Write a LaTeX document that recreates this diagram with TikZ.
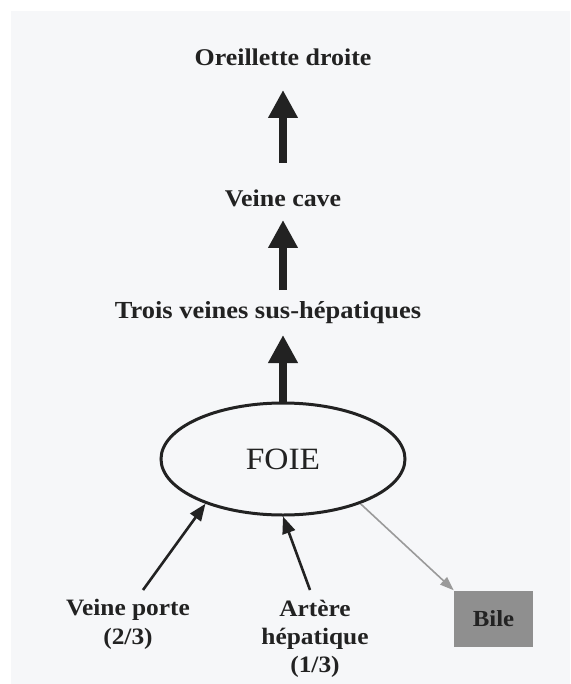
\documentclass[tikz,border=0pt]{standalone}
\usepackage{fontspec}
\setmainfont{Liberation Serif}[FakeStretch=1.08]
\usetikzlibrary{arrows.meta,shapes.geometric}
\definecolor{paper}{HTML}{F6F7F9}
\definecolor{ink}{HTML}{222222}
\definecolor{bilegray}{HTML}{8F8F8F}
\definecolor{lightarrow}{HTML}{9A9A9A}
\tikzset{
  lbl/.style={font=\fontsize{24}{28}\selectfont\bfseries, text=ink, align=center, inner sep=0pt},
  bigarrow/.style={draw=ink, line width=8pt, -{Triangle[width=28pt,length=28pt]}},
  thinarrow/.style={draw=ink, line width=2.6pt, -{Triangle[width=13pt,length=17pt]}},
  grayarrow/.style={draw=lightarrow, line width=1.6pt, -{Triangle[width=10pt,length=14pt]}},
}
\begin{document}
\begin{tikzpicture}[x=1pt,y=-1pt]
\useasboundingbox (0,0) rectangle (570,684);
\fill[white] (0,0) rectangle (570,684);
\fill[paper] (11,11) rectangle (570,684);

\node[lbl] (od) at (283,57) {Oreillette droite};
\node[lbl] (vc) at (283,198) {Veine cave};
\node[lbl, font=\fontsize{24.5}{28}\selectfont\bfseries] (tv) at (268,313) {Trois veines sus-hépatiques};
\node[ellipse, draw=ink, line width=3pt, minimum width=244pt, minimum height=112pt,
      font=\fontsize{31}{34}\selectfont, text=ink] (foie) at (283,459) {FOIE};
\node[lbl, font=\fontsize{23.5}{29}\selectfont\bfseries] (vp) at (128,624) {Veine porte\\(2/3)};
\node[lbl, font=\fontsize{23.5}{28}\selectfont\bfseries] (ah) at (315,639) {Artère\\hépatique\\(1/3)};
\node[fill=bilegray, minimum width=79pt, minimum height=56pt, inner sep=0pt,
      font=\fontsize{23}{26}\selectfont\bfseries, text=ink] (bile) at (493.5,618.5) {Bile};

\coordinate (vpin) at (143,590);
\coordinate (ahin) at (310,590);

\draw[bigarrow, shorten <=35pt, shorten >=33pt] (vc.center) -- (od.center);
\draw[bigarrow, shorten <=23pt, shorten >=22pt] (vc |- tv) -- (vc.center);
\draw[bigarrow, shorten >=22pt] (foie.north) -- (vc |- tv);
\draw[thinarrow] (vpin) -- (foie.210);
\draw[thinarrow] (ahin) -- (foie.south);
\draw[grayarrow] (foie.330) -- (bile.north west);
\end{tikzpicture}
\end{document}
